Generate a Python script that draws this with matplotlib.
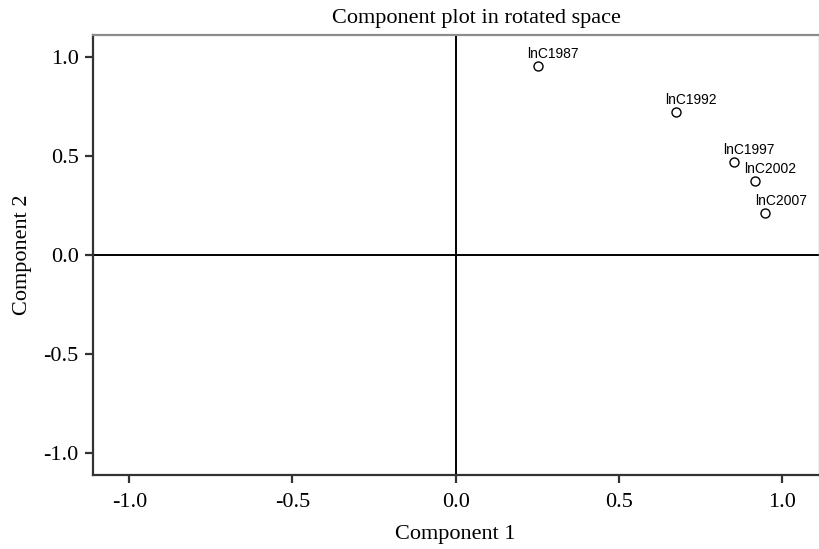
import numpy as np
import matplotlib.pyplot as plt

# Rotated component loadings for the log-consumption variables
names = ['lnC1987', 'lnC1992', 'lnC1997', 'lnC2002', 'lnC2007']
comp1 = [0.251, 0.675, 0.852, 0.916, 0.948]
comp2 = [0.957, 0.723, 0.472, 0.374, 0.211]

ticks = [-1.0, -0.5, 0.0, 0.5, 1.0]

fig = plt.figure(figsize=(8.19, 5.49), dpi=100)
ax = fig.add_axes([0.1132, 0.1348, 0.8864, 0.8014])

serif = 'Liberation Serif'

# reference lines through the origin
ax.axhline(0, color='black', linewidth=1.4, zorder=1)
ax.axvline(0, color='black', linewidth=1.4, zorder=1)

ax.plot(comp1, comp2, linestyle='none', marker='o', markersize=6.5,
        markerfacecolor='white', markeredgecolor='black',
        markeredgewidth=1.0, zorder=3)

for n, x, y in zip(names, comp1, comp2):
    ax.annotate(n, (x, y), xytext=(-7.5, 8.6), textcoords='offset points',
                ha='left', va='center', fontsize=10,
                family='Liberation Sans', color='black')

ax.set_xlim(-1.112, 1.112)
ax.set_ylim(-1.112, 1.112)
ax.set_xticks(ticks)
ax.set_yticks(ticks)
ax.set_xticklabels(['%.1f' % t for t in ticks], family=serif, fontsize=16)
ax.set_yticklabels(['%.1f' % t for t in ticks], family=serif, fontsize=16)
ax.tick_params(direction='out', length=6, width=1.6, color='#333333', pad=4)
ax.tick_params(axis='x', pad=7)

for side in ['left', 'bottom']:
    ax.spines[side].set_color('#333333')
    ax.spines[side].set_linewidth(1.6)
ax.spines['top'].set_color('#8c8c8c')
ax.spines['top'].set_linewidth(1.6)
ax.spines['right'].set_color('#b0b0b0')
ax.spines['right'].set_linewidth(1.0)

ax.set_xlabel('Component 1', family=serif, fontsize=16, labelpad=9)
ax.set_ylabel('Component 2', family=serif, fontsize=16, labelpad=8)
fig.text(0.5815, 0.967, 'Component plot in rotated space', family=serif,
         fontsize=16, ha='center', va='center')

plt.savefig('out.png', dpi=100)
